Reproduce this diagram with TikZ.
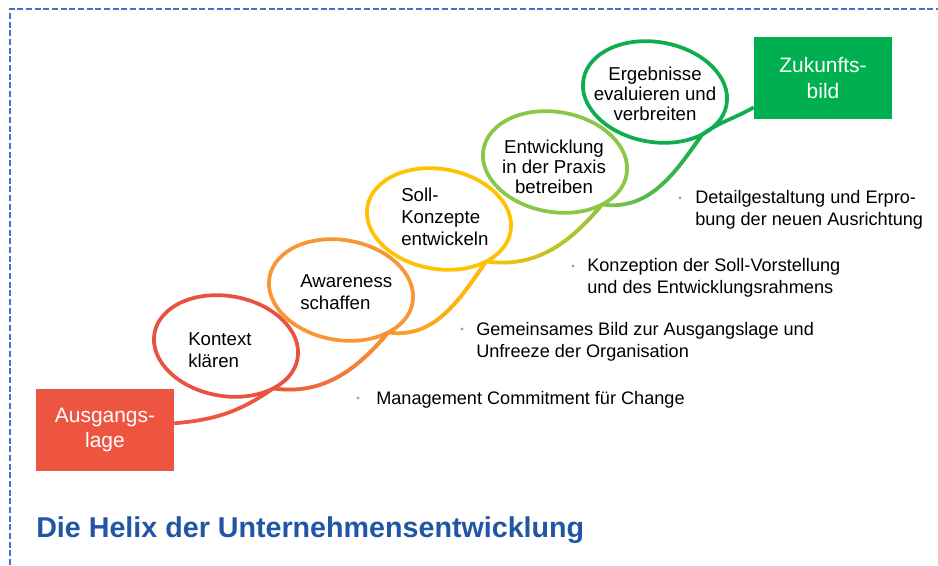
\documentclass[tikz,border=0pt]{standalone}
\usepackage{fontspec}
\setmainfont{Liberation Sans}
\usetikzlibrary{shapes.geometric,fadings,positioning}

\definecolor{kred}{RGB}{233,82,62}
\definecolor{korange}{RGB}{247,150,50}
\definecolor{kyellow}{RGB}{255,194,0}
\definecolor{klgreen}{RGB}{140,198,70}
\definecolor{kgreen}{RGB}{16,172,80}
\definecolor{boxgreen}{RGB}{0,176,80}
\definecolor{boxred}{RGB}{238,85,64}
\definecolor{titleblue}{RGB}{33,85,165}
\definecolor{frameblue}{RGB}{68,114,196}

\tikzset{
  helixloop/.style={ellipse, draw=#1, line width=2.8pt, minimum width=109pt,
    minimum height=75pt, inner sep=0pt, outer sep=0pt, rotate=-10},
  looptext/.style={font=\fontsize{14}{16.5}\selectfont, align=left, inner sep=0pt},
  stagebox/.style={fill=#1, text=white, minimum width=103.5pt, minimum height=61pt,
    inner sep=0pt, align=center, font=\fontsize{15.7}{19}\selectfont},
  helix/.style={line width=2.8pt},
  bullet/.style={circle, fill=gray!75, inner sep=0pt, minimum size=2.4pt},
  bullettext/.style={font=\fontsize{13.6}{16.5}\selectfont, align=left, inner sep=0pt, anchor=west}
}

\begin{document}
\begin{tikzpicture}[x=0.75pt, y=0.75pt]
  \useasboundingbox (0,0) rectangle (938,565);

  % frame
  \draw[frameblue, line width=1.5pt, dash pattern=on 4.5pt off 2pt] (10,0) |- (938,556);

  % start and target
  \node[stagebox=boxred] (aus) at (105,135) {Ausgangs-\\lage};
  \node[stagebox=boxgreen] (zukunft) at (823,487) {Zukunfts-\\bild};

  % loops of the helix
  \node[helixloop=kred] (kontext) at (226,219) {};
  \node[helixloop=korange] (aware) at (341,275) {};
  \node[helixloop=kyellow] (soll) at (439,346) {};
  \node[helixloop=klgreen] (praxis) at (555,403) {};
  \node[helixloop=kgreen] (ergebnis) at (655,473) {};

  \node[looptext, anchor=west] (kontext-t) at (188,215) {Kontext\\klären};
  \node[looptext, anchor=west] (aware-t) at (300,273) {Awareness\\schaffen};
  \node[looptext, anchor=west] (soll-t) at (401,348) {Soll-\\Konzepte\\entwickeln};
  \node[looptext, align=center, font=\fontsize{14}{15}\selectfont] (praxis-t) at (554,398) {Entwicklung\\in der Praxis\\betreiben};
  \node[looptext, align=center, font=\fontsize{14}{15}\selectfont] (ergebnis-t) at (655,471) {Ergebnisse\\evaluieren und\\verbreiten};

  % connecting strands
  \draw[helix, boxred] ([yshift=5pt]aus.east) to[out=5, in=215] (kontext.-32);
  \draw[helix, kred, postaction={draw=korange, path fading=west}] (kontext.-32) to[out=-8, in=230] (aware.-32);
  \draw[helix, korange, postaction={draw=kyellow, path fading=west}] (aware.-32) to[out=-8, in=235] (soll.-32);
  \draw[helix, kyellow, postaction={draw=klgreen, path fading=west}] (soll.-32) to[out=-8, in=230] (praxis.-32);
  \draw[helix, klgreen, postaction={draw=kgreen, path fading=west}] (praxis.-32) to[out=-8, in=235] (ergebnis.-32);
  \draw[helix, kgreen] (ergebnis.-32) to[out=35, in=210] ([yshift=-22pt]zukunft.west);

  % phases
  \node[bullet] (b1) at (358,167) {};
  \node[bullettext] (p1) at (376,165) {Management Commitment für Change};
  \node[bullet] (b2) at (462,236) {};
  \node[bullettext] (p2) at (476,223) {Gemeinsames Bild zur Ausgangslage und\\Unfreeze der Organisation};
  \node[bullet] (b3) at (573,299) {};
  \node[bullettext] (p3) at (587,287) {Konzeption der Soll-Vorstellung\\und des Entwicklungsrahmens};
  \node[bullet] (b4) at (680,367) {};
  \node[bullettext] (p4) at (695,355) {Detailgestaltung und Erpro-\\bung der neuen Ausrichtung};

  \node[anchor=base west, inner sep=0pt, text=titleblue, font=\bfseries\fontsize{21.5}{26}\selectfont] (title) at (36,28) {Die Helix der Unternehmensentwicklung};
\end{tikzpicture}
\end{document}
